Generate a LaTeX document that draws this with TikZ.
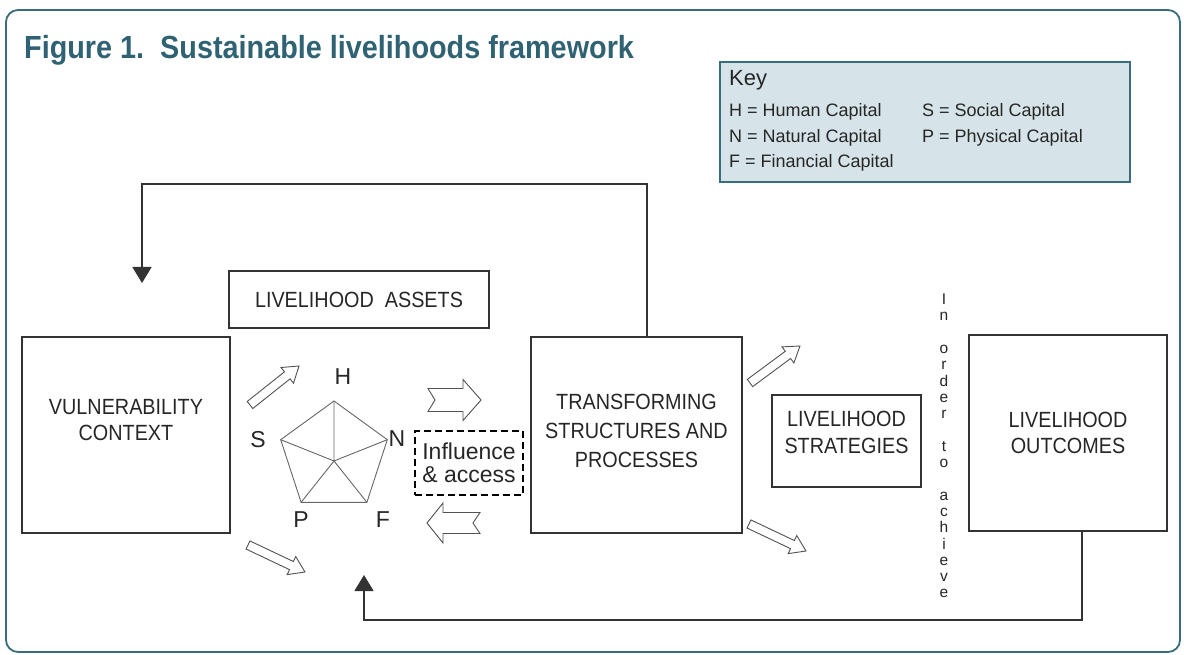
\documentclass[tikz,border=0pt]{standalone}
\usepackage{fontspec}
\setmainfont{Liberation Sans}
\newfontfamily\boxfont[FakeStretch=0.9]{Liberation Sans}
\newfontfamily\titlefont[FakeStretch=0.9]{Liberation Sans}
\usetikzlibrary{calc,arrows.meta}
\definecolor{teal1}{HTML}{3A6D7C}
\definecolor{titlecol}{HTML}{2F6272}
\definecolor{keyfill}{HTML}{D6E4E9}
\definecolor{ink}{HTML}{333333}
\tikzset{
  box/.style={draw=ink, line width=1.6pt, align=center, inner sep=0pt,
    font=\boxfont\fontsize{22}{27}\selectfont, text=black!85},
  hollow/.style={draw=ink!85, line width=0.9pt, fill=white, line join=miter},
  fb/.style={draw=ink, line width=1.6pt},
  fbtip/.style={-{Triangle[width=19pt,length=16pt]}},
  keytext/.style={anchor=west, inner sep=0pt, font=\fontsize{18}{20}\selectfont, text=black!85},
  penta/.style={draw=ink!75, line width=0.9pt},
  plabel/.style={inner sep=0pt, font=\fontsize{23}{25}\selectfont, text=black!85},
}
\newcommand\blockarr[6]{%
  \coordinate (#2-base) at ($(#2)!#5!(#1)$);
  \coordinate (#1-notch) at ($(#1)!#6!(#2)$);
  \draw[hollow] ($(#1)!#3!90:(#2)$) -- ($(#2-base)!#3!90:(#2)$)
    -- ($(#2-base)!#4!90:(#2)$) -- (#2) -- ($(#2-base)!#4!-90:(#2)$)
    -- ($(#2-base)!#3!-90:(#2)$) -- ($(#1)!#3!-90:(#2)$) -- (#1-notch) -- cycle;
}
\begin{document}
\begin{tikzpicture}[x=1pt,y=-1pt]
\useasboundingbox (0,0) rectangle (1184,655);
% outer frame
\draw[teal1, line width=1.8pt, rounded corners=12pt] (6,10) rectangle (1180,652);
% title
\node[anchor=west, inner sep=0pt, text=titlecol, font=\titlefont\bfseries\fontsize{32}{36}\selectfont] (title) at (24,50) {Figure 1.\ \ Sustainable livelihoods framework};
% key
\node[draw=teal1, line width=1.8pt, fill=keyfill, minimum width=410pt, minimum height=120pt, inner sep=0pt] (key) at (925,122) {};
\node[keytext, font=\fontsize{22}{24}\selectfont] (keyt) at (729,80) {Key};
\node[keytext] (kh) at (729,112) {H = Human Capital};
\node[keytext] (kn) at (729,138) {N = Natural Capital};
\node[keytext] (kf) at (729,163) {F = Financial Capital};
\node[keytext] (ks) at (922,112) {S = Social Capital};
\node[keytext] (kp) at (922,138) {P = Physical Capital};
% boxes
\node[box, minimum width=260pt, minimum height=57pt] (la) at (359,299.5) {LIVELIHOOD\ \ ASSETS};
\node[box, font=\boxfont\fontsize{22}{26}\selectfont, minimum width=208pt, minimum height=196pt] (vc) at (126,435) {VULNERABILITY\\CONTEXT\\[-4pt]\strut};
\node[box, font=\boxfont\fontsize{22}{29}\selectfont, minimum width=211pt, minimum height=196pt] (ts) at (636.5,435) {TRANSFORMING\\STRUCTURES AND\\PROCESSES\\[-30pt]\strut};
\node[box, minimum width=149pt, minimum height=92pt] (ls) at (846.5,441) {LIVELIHOOD\\STRATEGIES\\[-17pt]\strut};
\node[box, font=\boxfont\fontsize{22}{26}\selectfont, minimum width=198pt, minimum height=196pt] (lo) at (1068,433) {LIVELIHOOD\\OUTCOMES};
\node[draw=black, line width=2.6pt, dash pattern=on 7pt off 4pt, minimum width=108pt, minimum height=64pt, inner sep=0pt, align=center, font=\fontsize{23}{23}\selectfont, text=black!85] (ia) at (469,463) {Influence\\\& access};
% vertical text
\node[inner sep=0pt, align=center, font=\fontsize{15.5}{16.3}\selectfont, text=black!85] (achieve) at (944,446)
 {I\\n\\[16.3pt]o\\r\\d\\e\\r\\[16.3pt]t\\o\\[16.3pt]a\\c\\h\\i\\e\\v\\e};
% feedback loops
\coordinate (t1) at (647,184);
\coordinate (fbtop) at (142,283);
\draw[fb, fbtip] (t1 |- ts.north) -- (t1) -| (fbtop);
\coordinate (b1) at (1082,620);
\coordinate (fbbot) at (364,575);
\draw[fb, fbtip] (b1 |- lo.south) -- (b1) -| (fbbot);
% pentagon
\coordinate (pH) at (334,401);
\coordinate (pN) at (387.3,439.7);
\coordinate (pF) at (366.9,502.3);
\coordinate (pP) at (301.1,502.3);
\coordinate (pS) at (280.7,439.7);
\coordinate (pC) at (334,461);
\draw[penta] (pH) -- (pN) -- (pF) -- (pP) -- (pS) -- cycle;
\draw[penta] (pC) -- (pH) (pC) -- (pN) (pC) -- (pF) (pC) -- (pP) (pC) -- (pS);
\node[plabel] (lH) at (343,377) {H};
\node[plabel] (lS) at (258,440) {S};
\node[plabel] (lN) at (397,439) {N};
\node[plabel] (lP) at (301,520) {P};
\node[plabel] (lF) at (383,520) {F};
% hollow block arrows
\coordinate (a1t) at (250,405); \coordinate (a1h) at (299,366);
\coordinate (a2t) at (248,545); \coordinate (a2h) at (305,572);
\coordinate (a3t) at (428,400); \coordinate (a3h) at (481,400);
\coordinate (a4t) at (480,523); \coordinate (a4h) at (427,523);
\coordinate (a5t) at (750,383); \coordinate (a5h) at (800,346);
\coordinate (a6t) at (749,524); \coordinate (a6h) at (806,551);
\blockarr{a1t}{a1h}{4.5pt}{10pt}{15pt}{0pt}
\blockarr{a2t}{a2h}{4.5pt}{10pt}{15pt}{0pt}
\blockarr{a3t}{a3h}{11.5pt}{20.5pt}{18pt}{7pt}
\blockarr{a4t}{a4h}{10.5pt}{20pt}{16pt}{7pt}
\blockarr{a5t}{a5h}{4.5pt}{10pt}{15pt}{0pt}
\blockarr{a6t}{a6h}{4.5pt}{10pt}{15pt}{0pt}
\end{tikzpicture}
\end{document}
